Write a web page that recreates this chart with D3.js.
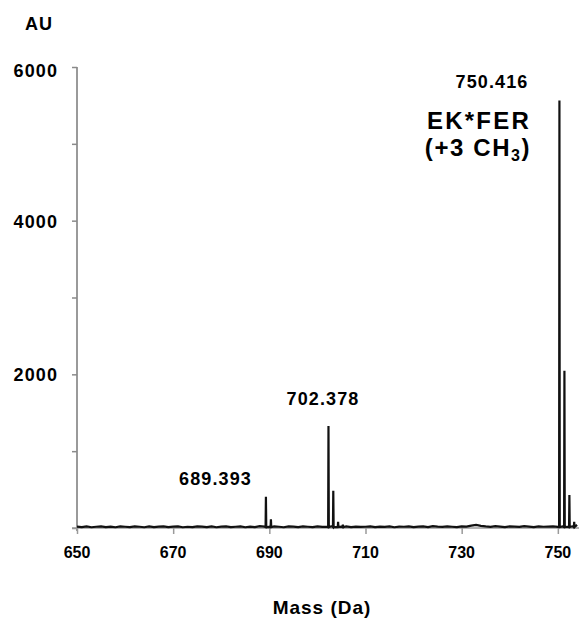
<!DOCTYPE html>
<html><head><meta charset="utf-8">
<script src="https://cdn.jsdelivr.net/npm/d3@7"></script>
<style>
html,body{margin:0;padding:0;background:#fff;}
svg{display:block;font-family:"Liberation Sans",Arial,sans-serif;font-weight:bold;}
</style></head>
<body>
<svg id="c" width="579" height="622"></svg>
<script>
// ---- data ----
const xTicks = [650, 670, 690, 710, 730, 750];
const yTicks = [0, 1000, 2000, 3000, 4000, 5000, 6000];
const yTickLabels = ["", "", "2000", "", "4000", "", "6000"];
// baseline noise, one value per Da from 650 to 754
const noiseMass = d3.range(650, 755);
const noiseVals = [18,12,20,10,16,22,12,18,10,20,16,12,22,16,10,20,12,18,22,12,
                   18,20,10,16,12,22,18,12,20,10,18,22,12,16,20,10,18,12,24,18,
                   14,20,16,10,22,18,12,20,16,12,22,14,18,24,12,18,20,12,18,14,
                   16,22,12,18,14,20,10,18,16,22,12,18,20,12,24,18,14,20,16,12,
                   22,18,30,40,28,20,16,24,18,12,20,18,14,24,18,12,22,16,18,20,
                   14,20,16,22,40];
const peakMass = [689.29, 690.33, 702.30, 703.30, 704.30, 705.3, 750.33, 751.37, 752.40, 753.4];
const peakHeight = [408, 113, 1328, 486, 82, 45, 5564, 2048, 430, 80];
const peakLabels = ["689.393", "702.378", "750.416"];

// ---- layout ----
const svg = d3.select("#c");
const x = d3.scaleLinear().domain([650, 754.4]).range([77, 579]);
const y = d3.scaleLinear().domain([0, 6000]).range([528, 67]);

// axes
const gy = svg.append("g").attr("transform", "translate(77,0)")
  .call(d3.axisLeft(y).tickValues(yTicks).tickSize(5).tickFormat(""));
gy.select(".domain").attr("stroke", "#9a9a9a").attr("stroke-width", 2).attr("d", "M0,67V531");
gy.selectAll(".tick line").attr("stroke", "#8a8a8a").attr("stroke-width", 1.5);

const gx = svg.append("g").attr("transform", "translate(0,528)")
  .call(d3.axisBottom(x).tickValues(xTicks).tickSize(6).tickFormat(""));
gx.select(".domain").attr("stroke", "#9a9a9a").attr("stroke-width", 1.5).attr("d", "M72,0H579");
gx.selectAll(".tick line").attr("stroke", "#9a9a9a").attr("stroke-width", 1.5);

// y tick labels
svg.append("g").selectAll("text").data(yTicks.map((v,i)=>({v, t:yTickLabels[i]})).filter(d=>d.t))
  .join("text")
  .attr("x", 58).attr("y", d => y(d.v) + (d.v === 6000 ? 10 : 7))
  .attr("text-anchor", "end").attr("font-size", 18).attr("letter-spacing", 1.1)
  .text(d => d.t);

// x tick labels
svg.append("g").selectAll("text").data(xTicks).join("text")
  .attr("x", d => x(d)).attr("y", 558)
  .attr("text-anchor", "middle").attr("font-size", 16)
  .text(d => d);

// spectrum
const pts = [];
noiseMass.forEach((m,i) => pts.push([m, noiseVals[i]]));
peakMass.forEach((m,i) => {
  pts.push([m - 0.07, 12]);
  pts.push([m, peakHeight[i]]);
  pts.push([m + 0.07, 12]);
});
pts.sort((a,b) => a[0]-b[0]);
const line = d3.line().x(d => x(d[0])).y(d => y(d[1]));
svg.append("path").datum(pts)
  .attr("d", line).attr("fill", "none")
  .attr("stroke", "#111").attr("stroke-width", 2.2).attr("stroke-linejoin", "miter");

// annotations
svg.append("text").attr("x", 39).attr("y", 30).attr("text-anchor", "middle")
  .attr("font-size", 18).attr("letter-spacing", 1).text("AU");
svg.append("text").attr("x", 215.5).attr("y", 485).attr("text-anchor", "middle")
  .attr("font-size", 18).attr("letter-spacing", 1.1).text(peakLabels[0]);
svg.append("text").attr("x", 323).attr("y", 405).attr("text-anchor", "middle")
  .attr("font-size", 18).attr("letter-spacing", 1.1).text(peakLabels[1]);
svg.append("text").attr("x", 492).attr("y", 88).attr("text-anchor", "middle")
  .attr("font-size", 18).attr("letter-spacing", 1.1).text(peakLabels[2]);
svg.append("text").attr("x", 479).attr("y", 129).attr("text-anchor", "middle")
  .attr("font-size", 24).attr("letter-spacing", 2.2).text("EK*FER");
const t2 = svg.append("text").attr("x", 478).attr("y", 156).attr("text-anchor", "middle")
  .attr("font-size", 24).attr("letter-spacing", 1.6);
t2.append("tspan").text("(+3 CH");
t2.append("tspan").attr("font-size", 16).attr("dy", 5).text("3");
t2.append("tspan").attr("dy", -5).text(")");

svg.append("text").attr("x", 322).attr("y", 614).attr("text-anchor", "middle")
  .attr("font-size", 19).attr("letter-spacing", 1).text("Mass (Da)");
</script>
</body></html>
